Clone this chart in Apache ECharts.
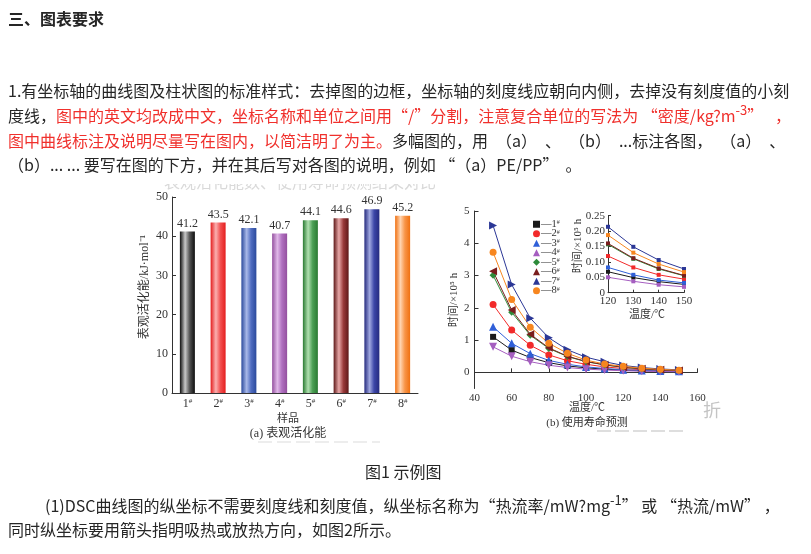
<!DOCTYPE html>
<html>
<head>
<meta charset="utf-8">
<script src="https://cdn.jsdelivr.net/npm/echarts@6/dist/echarts.min.js"></script>
<style>
html, body { margin: 0; padding: 0; background: #fff; width: 811px; height: 554px; overflow: hidden; }
#fig { position: absolute; left: 0; top: 0; width: 811px; height: 554px; }
.t { position: absolute; white-space: nowrap; font-family: "Noto Sans CJK SC", sans-serif; font-size: 16px; line-height: 24px; color: #262626; text-spacing-trim: space-all; }
.r { color: #f0302c; }
sup { font-size: 13px; line-height: 0; vertical-align: 0.55em; }
</style>
</head>
<body>
<div id="fig"></div>
<div class="t" style="left:8px;top:6px;font-weight:bold">三、图表要求</div>
<div class="t" style="left:8px;top:78px">1.有坐标轴的曲线图及柱状图的标准样式：去掉图的边框，坐标轴的刻度线应朝向内侧，去掉没有刻度值的小刻</div>
<div class="t" style="left:8px;top:103px">度线，<span class="r">图中的英文均改成中文，坐标名称和单位之间用“/”分割，注意复合单位的写法为 “密度/kg?m<sup>-3</sup>” &ensp;，</span></div>
<div class="t" style="left:8px;top:128px"><span class="r">图中曲线标注及说明尽量写在图内，以简洁明了为主。</span>多幅图的，用&ensp;（a）&ensp;、&ensp;（b）&ensp;...标注各图，&ensp;（a）&ensp;、</div>
<div class="t" style="left:8px;top:152px">（b）... ... 要写在图的下方，并在其后写对各图的说明，例如 “（a）PE/PP” &nbsp;。</div>
<div class="t" style="left:365px;top:459px">图1 示例图</div>
<div class="t" style="left:45px;top:493px">(1)DSC曲线图的纵坐标不需要刻度线和刻度值，纵坐标名称为“热流率/mW?mg<sup>-1</sup>” 或 “热流/mW” ，</div>
<div class="t" style="left:8px;top:517px">同时纵坐标要用箭头指明吸热或放热方向，如图2所示。</div>

<script>
// (a) 表观活化能
const samples = ['1#', '2#', '3#', '4#', '5#', '6#', '7#', '8#'];
const activationEnergy = [41.2, 43.5, 42.1, 40.7, 44.1, 44.6, 46.9, 45.2];

// (b) 使用寿命预测，时间 ×10^5 h
const temperatures = [50, 60, 70, 80, 90, 100, 110, 120, 130, 140, 150];
const life1 = [1.10, 0.69, 0.46, 0.30, 0.20, 0.14, 0.10, 0.068, 0.049, 0.036, 0.027];
const life2 = [2.10, 1.31, 0.84, 0.54, 0.36, 0.25, 0.17, 0.119, 0.082, 0.058, 0.044];
const life3 = [1.41, 0.90, 0.58, 0.37, 0.25, 0.17, 0.12, 0.082, 0.058, 0.041, 0.032];
const life4 = [0.79, 0.50, 0.33, 0.22, 0.15, 0.10, 0.072, 0.050, 0.037, 0.026, 0.019];
const life5 = [3.01, 1.86, 1.15, 0.74, 0.49, 0.33, 0.23, 0.157, 0.110, 0.077, 0.055];
const life6 = [3.13, 1.93, 1.18, 0.76, 0.50, 0.34, 0.235, 0.160, 0.112, 0.079, 0.056];
const life7 = [4.55, 2.72, 1.68, 1.07, 0.70, 0.47, 0.33, 0.214, 0.149, 0.106, 0.077];
const life8 = [3.72, 2.26, 1.40, 0.90, 0.59, 0.38, 0.26, 0.187, 0.130, 0.093, 0.067];
const lifeData = [life1, life2, life3, life4, life5, life6, life7, life8];

// 刻度
const lifeTicks = [0, 1, 2, 3, 4, 5];
const insetFrom = 7; // 120℃ 开始放大

// 样式
const serif = '"Liberation Serif", "Times New Roman", "Noto Sans CJK SC", serif';
const barDark = ['#0d0d0d', '#e41e1e', '#2b4a9c', '#94509f', '#2a7a32', '#5e1818', '#252a7e', '#f07010'];
const barBase = ['#555555', '#f25050', '#4f6cc0', '#b070c0', '#4ca055', '#9a3a3a', '#3c46a8', '#f89548'];
const barLight = ['#c8c8c8', '#fbb0b0', '#a8b8e8', '#e0b8e8', '#b0e0b0', '#e8a8a8', '#a0a8e0', '#ffd4b0'];
const lineColors = ['#1a1a1a', '#f22a2a', '#2f5fd8', '#a55ec0', '#2e8b3a', '#7a1e1e', '#2b3796', '#f7861f'];
const symbols = ['rect', 'circle', 'triangle', 'triangle', 'diamond', 'triangle', 'triangle', 'circle'];
const symbolRot = [0, 0, 0, 180, 0, 90, -90, 0];
const symbolSizes = [6, 7, 8, 8, 7, 8, 8, 7];

const chart = echarts.init(document.getElementById('fig'));

const axisLine = { show: true, lineStyle: { color: '#333', width: 1 } };
const supRich = {
	n: { fontFamily: serif, fontSize: 12, color: '#333' },
	s: { fontFamily: serif, fontSize: 7, color: '#333', verticalAlign: 'top' }
};

const barData = activationEnergy.map((v, i) => ({
	value: v,
	itemStyle: {
		color: new echarts.graphic.LinearGradient(0, 0, 1, 0, [
			{ offset: 0, color: barDark[i] },
			{ offset: 0.35, color: barLight[i] },
			{ offset: 0.65, color: barBase[i] },
			{ offset: 1, color: barDark[i] }
		])
	}
}));

const mainSeries = lifeData.map((d, i) => ({
	name: samples[i],
	type: 'line',
	xAxisIndex: 1,
	yAxisIndex: 1,
	data: temperatures.map((t, k) => [t, d[k]]),
	symbol: symbols[i],
	symbolRotate: symbolRot[i],
	symbolSize: symbolSizes[i],
	lineStyle: { width: 1, color: lineColors[i] },
	itemStyle: { color: lineColors[i] },
	z: 3
}));

const insetSeries = lifeData.map((d, i) => ({
	name: samples[i],
	type: 'line',
	xAxisIndex: 2,
	yAxisIndex: 2,
	data: temperatures.slice(insetFrom).map((t, k) => [t, d[insetFrom + k]]),
	symbol: 'rect',
	symbolSize: 4,
	lineStyle: { width: 1, color: lineColors[i] },
	itemStyle: { color: lineColors[i] },
	z: 3
}));

const txt = (x, y, text, size, rot, color) => ({
	type: 'text',
	x: x,
	y: y,
	rotation: rot || 0,
	style: {
		text: text,
		font: size + 'px ' + serif,
		fill: color || '#333',
		textAlign: 'center',
		textVerticalAlign: 'middle'
	}
});

const option = {
	animation: false,
	grid: [
		{ left: 172, top: 197, width: 246, height: 196 },
		{ left: 474.5, top: 211, width: 223, height: 177.5 },
		{ left: 608, top: 215.7, width: 76, height: 77 }
	],
	xAxis: [
		{
			gridIndex: 0,
			type: 'category',
			data: samples,
			axisLine: axisLine,
			axisTick: { show: false },
			axisLabel: {
				interval: 0,
				margin: 5,
				formatter: v => '{n|' + v.replace('#', '') + '}{s|#}',
				rich: supRich
			}
		},
		{
			gridIndex: 1,
			type: 'value',
			min: 40, max: 160, interval: 20,
			axisLine: axisLine,
			axisTick: { inside: true, length: 4, lineStyle: { color: '#333' } },
			axisLabel: { margin: 4, fontFamily: serif, fontSize: 11, color: '#333' },
			splitLine: { show: false }
		},
		{
			gridIndex: 2,
			type: 'value',
			min: 120, max: 150, interval: 10,
			axisLine: axisLine,
			axisTick: { inside: true, length: 3, lineStyle: { color: '#333' } },
			axisLabel: { margin: 3, fontFamily: serif, fontSize: 11, color: '#333' },
			splitLine: { show: false }
		}
	],
	yAxis: [
		{
			gridIndex: 0,
			type: 'value',
			min: 0, max: 50, interval: 10,
			axisLine: axisLine,
			axisTick: { show: true, inside: true, length: 4, lineStyle: { color: '#333' } },
			axisLabel: { margin: 4, fontFamily: serif, fontSize: 12, color: '#333' },
			splitLine: { show: false }
		},
		{
			gridIndex: 1,
			type: 'value',
			min: -0.5, max: 5,
			axisLine: axisLine,
			axisTick: { show: true, inside: true, length: 4, customValues: lifeTicks, lineStyle: { color: '#333' } },
			axisLabel: { margin: 5, fontFamily: serif, fontSize: 11, color: '#333', customValues: lifeTicks },
			splitLine: { show: false }
		},
		{
			gridIndex: 2,
			type: 'value',
			min: 0, max: 0.25, interval: 0.05,
			axisLine: axisLine,
			axisTick: { show: true, inside: true, length: 3, lineStyle: { color: '#333' } },
			axisLabel: {
				margin: 3, fontFamily: serif, fontSize: 11, color: '#333',
				formatter: v => (v === 0 ? '0' : v.toFixed(2))
			},
			splitLine: { show: false }
		}
	],
	legend: {
		orient: 'vertical',
		left: 528,
		top: 214,
		itemWidth: 7,
		itemHeight: 7,
		itemGap: -1,
		data: samples.map((n, i) => ({ name: n, icon: symbols[i], symbolRotate: symbolRot[i] })),
		formatter: n => '{n|—' + n.replace('#', '') + '}{s|#}',
		textStyle: {
			padding: [0, 0, 0, -4],
			lineHeight: 9,
			rich: {
				n: { fontFamily: serif, fontSize: 10.5, color: '#333', lineHeight: 9 },
				s: { fontFamily: serif, fontSize: 6, color: '#333', verticalAlign: 'top', lineHeight: 9 }
			}
		}
	},
	series: [
		{
			type: 'bar',
			xAxisIndex: 0,
			yAxisIndex: 0,
			data: barData,
			barWidth: 15,
			label: {
				show: true,
				position: 'top',
				distance: 2,
				fontFamily: serif,
				fontSize: 12,
				color: '#333',
				formatter: p => p.value.toFixed(1)
			}
		}
	].concat(mainSeries, insetSeries),
	graphic: [
		txt(300, 184, '表观活化能数、使用寿命预测结果对比', 16, 0, '#d9d9d9'),
		{ type: 'rect', shape: { x: 120, y: 160, width: 610, height: 24 }, style: { fill: '#fff' }, z: 10 },
		txt(145, 287, '表观活化能/kJ·mol⁻¹', 12, Math.PI / 2),
		txt(288, 419, '样品', 11),
		txt(288, 434, '(a) 表观活化能', 12),
		txt(454, 300, '时间/×10⁵ h', 11, Math.PI / 2),
		txt(587, 408, '温度/℃', 11),
		txt(587, 423, '(b) 使用寿命预测', 11),
		txt(578, 246, '时间/×10⁵ h', 11, Math.PI / 2),
		txt(647, 315, '温度/℃', 11),
		txt(712, 412, '折', 18, 0, '#c4c4c4'),
		{ type: 'line', shape: { x1: 597, y1: 431, x2: 683, y2: 431 }, style: { stroke: '#d4d4d4', lineWidth: 1.5, lineDash: [14, 4] } },
		{ type: 'line', shape: { x1: 258, y1: 442, x2: 380, y2: 442 }, style: { stroke: '#e8e8e8', lineWidth: 1.5, lineDash: [14, 5] } }
	]
};

chart.setOption(option);
</script>
</body>
</html>
